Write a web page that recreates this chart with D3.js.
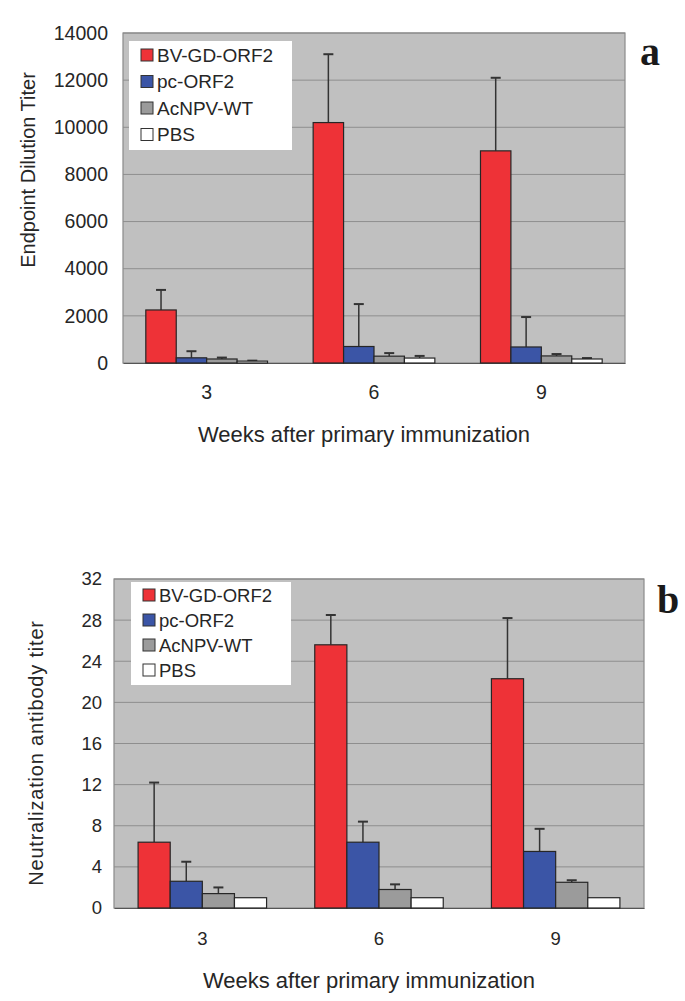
<!DOCTYPE html>
<html>
<head>
<meta charset="utf-8">
<script src="https://cdn.jsdelivr.net/npm/d3@7"></script>
<style>
  body { margin: 0; background: #fff; }
  svg text { font-family: "Liberation Sans", Arial, sans-serif; fill: #262626; }
</style>
</head>
<body>
<svg id="fig" width="685" height="1001"></svg>
<script>
// categorie e serie
const weeks = ["3", "6", "9"];
const groups = ["BV-GD-ORF2", "pc-ORF2", "AcNPV-WT", "PBS"];
const colors = ["#ee3237", "#3b55a6", "#9b9b9b", "#ffffff"];

// pannello a: titolo ELISA (media e deviazione)
const elisaMean = [[2250, 10200, 9000], [220, 700, 680], [170, 290, 300], [80, 210, 170]];
const elisaSd = [[850, 2900, 3100], [280, 1800, 1270], [60, 130, 80], [20, 90, 40]];
const elisaTicks = [0, 2000, 4000, 6000, 8000, 10000, 12000, 14000];

// pannello b: titolo neutralizzante
const neutMean = [[6.4, 25.6, 22.3], [2.6, 6.4, 5.5], [1.4, 1.8, 2.5], [1.0, 1.0, 1.0]];
const neutSd = [[5.8, 2.9, 5.9], [1.9, 2.0, 2.2], [0.6, 0.5, 0.2], [0, 0, 0]];
const neutTicks = [0, 4, 8, 12, 16, 20, 24, 28, 32];

const svg = d3.select("#fig");

function drawChart(cfg) {
  const g = svg.append("g");

  const x = d3.scaleBand().domain(weeks).range([cfg.left, cfg.right]);
  // 4 barre + spazio pari a 1.5 barre (stile Excel)
  const barW = x.bandwidth() / 5.5;
  const y = d3.scaleLinear().domain([0, cfg.max]).range([cfg.bottom, cfg.top]);

  // sfondo area del grafico
  g.append("rect")
    .attr("x", cfg.left).attr("y", cfg.top)
    .attr("width", cfg.right - cfg.left).attr("height", cfg.bottom - cfg.top)
    .attr("fill", "#c0c0c0");

  // griglia
  g.append("g").selectAll("line")
    .data(cfg.ticks.slice(1))
    .join("line")
    .attr("x1", cfg.left).attr("x2", cfg.right)
    .attr("y1", d => y(d)).attr("y2", d => y(d))
    .attr("stroke", "#8e8e8e").attr("stroke-width", 1);

  g.append("rect")
    .attr("x", cfg.left).attr("y", cfg.top)
    .attr("width", cfg.right - cfg.left).attr("height", cfg.bottom - cfg.top)
    .attr("fill", "none").attr("stroke", "#8a8a8a").attr("stroke-width", 1.2);

  // asse y
  const yAxis = g.append("g")
    .attr("transform", "translate(" + cfg.left + ",0)")
    .call(d3.axisLeft(y).tickValues(cfg.ticks).tickFormat(d3.format("d"))
      .tickSize(0).tickPadding(cfg.tickPad));
  yAxis.select(".domain").remove();
  yAxis.selectAll("text").style("font-size", cfg.tickFont + "px");

  // asse x
  const xAxis = g.append("g")
    .attr("transform", "translate(0," + cfg.bottom + ")")
    .call(d3.axisBottom(x).tickSize(0).tickPadding(cfg.xPad));
  xAxis.select(".domain").attr("stroke", "#555").attr("stroke-width", 1.2);
  xAxis.selectAll("text").style("font-size", cfg.tickFont + "px");

  // barre con barre d'errore
  groups.forEach((name, gi) => {
    const bars = g.append("g");
    weeks.forEach((wk, wi) => {
      const x0 = x(wk) + barW * 0.75 + gi * barW;
      const m = cfg.mean[gi][wi];
      const s = cfg.sd[gi][wi];
      const cx = x0 + barW / 2;
      if (s > 0) {
        bars.append("line")
          .attr("x1", cx).attr("x2", cx)
          .attr("y1", y(m)).attr("y2", y(m + s))
          .attr("stroke", "#333").attr("stroke-width", 1.5);
        bars.append("line")
          .attr("x1", cx - 5).attr("x2", cx + 5)
          .attr("y1", y(m + s)).attr("y2", y(m + s))
          .attr("stroke", "#333").attr("stroke-width", 2);
      }
      bars.append("rect")
        .attr("x", x0).attr("y", y(m))
        .attr("width", barW).attr("height", y(0) - y(m))
        .attr("fill", colors[gi])
        .attr("stroke", "#262626").attr("stroke-width", 1.2);
    });
  });

  // legenda
  const leg = g.append("g");
  leg.append("rect")
    .attr("x", cfg.legX).attr("y", cfg.legY)
    .attr("width", cfg.legW).attr("height", cfg.legH)
    .attr("fill", "#fff");
  groups.forEach((name, i) => {
    const ly = cfg.legY + cfg.legRow0 + i * cfg.legStep;
    leg.append("rect")
      .attr("x", cfg.legX + 12).attr("y", ly - 6)
      .attr("width", 12).attr("height", 12)
      .attr("fill", colors[i]).attr("stroke", "#333").attr("stroke-width", 1);
    leg.append("text")
      .attr("x", cfg.legX + 28).attr("y", ly)
      .attr("dy", "0.36em")
      .style("font-size", cfg.legFont + "px")
      .text(name);
  });

  // titoli assi
  g.append("text")
    .attr("transform", "translate(" + cfg.yTitleX + "," + cfg.yTitleY + ") rotate(-90)")
    .attr("text-anchor", "middle")
    .style("font-size", "20px")
    .style("letter-spacing", cfg.yTitleSpacing + "px")
    .text(cfg.yTitle);

  g.append("text")
    .attr("x", (cfg.left + cfg.right) / 2 - 10).attr("y", cfg.xTitleY)
    .attr("text-anchor", "middle")
    .style("font-size", "22px")
    .text("Weeks after primary immunization");

  // lettera del pannello
  g.append("text")
    .attr("x", cfg.letterX).attr("y", cfg.letterY)
    .style("font-family", "'Liberation Serif', 'Times New Roman', serif")
    .style("font-weight", "bold")
    .style("font-size", "40px")
    .style("fill", "#1a1a1a")
    .text(cfg.letter);
}

drawChart({
  left: 123, right: 625, top: 33, bottom: 363,
  max: 14000, ticks: elisaTicks, mean: elisaMean, sd: elisaSd,
  tickFont: 19.5, tickPad: 15, xPad: 22,
  legX: 129, legY: 41, legW: 163, legH: 109, legRow0: 14, legStep: 26.5, legFont: 19,
  yTitle: "Endpoint Dilution Titer", yTitleX: 35, yTitleY: 170, yTitleSpacing: 0,
  xTitleY: 442, letter: "a", letterX: 640, letterY: 65
});

drawChart({
  left: 114, right: 644, top: 579, bottom: 908,
  max: 32, ticks: neutTicks, mean: neutMean, sd: neutSd,
  tickFont: 18.5, tickPad: 12, xPad: 24,
  legX: 131, legY: 582, legW: 160, legH: 103, legRow0: 13, legStep: 25, legFont: 18.5,
  yTitle: "Neutralization antibody titer", yTitleX: 43, yTitleY: 753, yTitleSpacing: 0.8,
  xTitleY: 988, letter: "b", letterX: 657, letterY: 613
});
</script>
</body>
</html>
